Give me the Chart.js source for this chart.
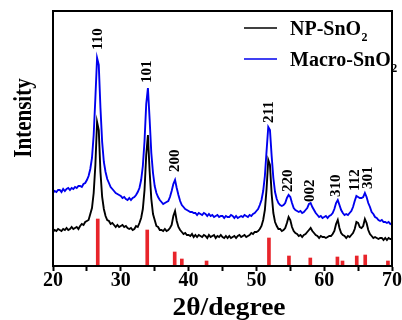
<!DOCTYPE html>
<html>
<head>
<meta charset="utf-8">
<script src="https://cdn.jsdelivr.net/npm/chart.js@4"></script>
<style>
  html, body { margin: 0; padding: 0; background: #fff; }
  #wrap { width: 402px; height: 320px; }
</style>
</head>
<body>
<div id="wrap"><canvas id="xrdChart"></canvas></div>
<script>
// 2θ sampling, 20..70 in 0.25 steps
const twoTheta = [];
for (let i = 0; i <= 200; i++) twoTheta.push(20 + i * 0.25);

// NP-SnO2 (black), one row per degree
const npSnO2 = [
  34, 36, 35, 37,  36, 35, 37, 36,  38, 36, 37, 39,  37, 38, 39, 37,  40, 42, 41, 44,
  45, 46, 52, 58,  73, 101, 144, 136,  94, 69, 57, 50,  46, 45, 42, 43,  41, 39, 41, 39,
  40, 41, 39, 40,  38, 37, 38, 36,  37, 40, 39, 43,  48, 57, 76, 111,  131, 95, 67, 52,
  46, 40, 39, 36,  36, 35, 37, 35,  36, 38, 41, 50,  55, 45, 39, 36,  34, 32, 33, 31,
  31, 30, 32, 29,  31, 29, 31, 30,  29, 31, 30, 28,  31, 29, 30, 31,  28, 30, 29, 31,
  29, 28, 30, 28,  30, 28, 29, 30,  28, 30, 31, 29,  30, 31, 29, 30,  31, 33, 32, 34,
  34, 35, 37, 40,  46, 56, 77, 106,  101, 72, 53, 44,  40, 37, 37, 35,  36, 38, 43, 49,
  46, 39, 35, 33,  32, 30, 31, 29,  31, 32, 34, 36,  38, 35, 33, 31,  30, 28, 30, 29,
  29, 28, 29, 30,  30, 32, 35, 42,  46, 38, 33, 31,  30, 28, 30, 29,  31, 33, 37, 44,
  43, 39, 38, 40,  47, 43, 36, 32,  30, 28, 29, 28,  27, 28, 28, 26,  28, 26, 28, 27,
  27
];

// Macro-SnO2 (blue)
const macroSnO2 = [
  73, 75, 74, 76,  76, 74, 77, 75,  77, 78, 76, 78,  77, 79, 78, 80,  80, 79, 82, 83,
  86, 90, 97, 108,  131, 168, 208, 201,  158, 124, 104, 94,  87, 83, 79, 77,  75, 73, 72, 71,
  70, 68, 69, 67,  66, 68, 66, 68,  69, 71, 74, 78,  86, 100, 125, 162,  178, 147, 113, 93,
  80, 73, 69, 66,  64, 62, 63, 64,  65, 69, 75, 82,  86, 78, 71, 65,  61, 59, 57, 56,
  55, 54, 54, 53,  53, 51, 53, 52,  51, 53, 52, 50,  52, 50, 51, 49,  50, 51, 49, 50,
  50, 48, 50, 49,  49, 51, 50, 48,  50, 48, 49, 50,  49, 51, 50, 49,  51, 50, 52, 53,
  55, 57, 61, 66,  75, 90, 115, 139,  136, 110, 88, 74,  67, 63, 61, 60,  61, 63, 68, 71,
  69, 63, 58, 56,  55, 54, 55, 53,  54, 56, 58, 62,  63, 59, 56, 53,  51, 49, 50, 48,
  49, 50, 48, 50,  51, 53, 57, 63,  66, 61, 56, 53,  51, 52, 51, 53,  55, 59, 65, 70,
  69, 68, 68, 69,  73, 69, 63, 59,  54, 52, 49, 48,  46, 45, 46, 44,  44, 43, 44, 42,
  43
];

// reference pattern sticks (red)
const refPos = [26.6, 33.9, 37.95, 39.0, 42.65, 51.85, 54.8, 57.95, 61.95, 62.7, 64.8, 66.05, 69.4];
const refInt = [47, 36, 14, 7, 5, 28, 10, 8, 9, 5, 10, 11, 5];

// peak indices
const hklLabels = ['110', '101', '200', '211', '220', '002', '310', '112', '301'];
const hklPos = [26.6, 33.9, 37.95, 51.9, 54.7, 57.95, 61.8, 64.55, 66.45];
const hklBase = [216, 183, 94, 143, 74, 64, 69, 75, 77];

const xTitle = '2θ/degree';
const yTitle = 'Intensity';

const SERIF = '"Liberation Serif", "Times New Roman", serif';

const toPoints = vals => vals.map((v, i) => ({ x: twoTheta[i], y: v }));

const decorations = {
    id: 'decorations',
    afterDatasetsDraw(chart) {
        const { ctx, chartArea: a, scales: { x, y } } = chart;
        ctx.save();

        // box frame
        ctx.strokeStyle = '#000';
        ctx.lineWidth = 2;
        ctx.strokeRect(a.left, a.top, a.right - a.left, a.bottom - a.top);

        // hkl labels, rotated
        ctx.fillStyle = '#000';
        ctx.font = 'bold 15px ' + SERIF;
        ctx.textAlign = 'left';
        ctx.textBaseline = 'middle';
        hklLabels.forEach((t, i) => {
            ctx.save();
            ctx.translate(x.getPixelForValue(hklPos[i]), y.getPixelForValue(hklBase[i]));
            ctx.rotate(-Math.PI / 2);
            ctx.fillText(t, 0, 0);
            ctx.restore();
        });

        // legend
        const items = chart.data.datasets.filter(d => d.type === 'line');
        items.forEach((d, i) => {
            const ly = 28 + i * 31;
            ctx.strokeStyle = d.borderColor;
            ctx.lineWidth = 1.5;
            ctx.beginPath();
            ctx.moveTo(244, ly);
            ctx.lineTo(277, ly);
            ctx.stroke();
            ctx.fillStyle = '#000';
            ctx.textAlign = 'left';
            ctx.textBaseline = 'alphabetic';
            ctx.font = 'bold 20px ' + SERIF;
            const main = d.label.slice(0, -1);
            ctx.fillText(main, 290, ly + 7);
            const w = ctx.measureText(main).width;
            ctx.font = 'bold 12px ' + SERIF;
            ctx.fillText(d.label.slice(-1), 290 + w + 0.5, ly + 13);
        });

        // axis titles
        ctx.fillStyle = '#000';
        ctx.textAlign = 'center';
        ctx.textBaseline = 'middle';
        ctx.font = 'bold 25px ' + SERIF;
        ctx.save();
        ctx.translate(229, 309);
        ctx.scale(1.1, 1);
        ctx.fillText(xTitle, 0, 0);
        ctx.restore();

        ctx.font = 'bold 21px ' + SERIF;
        ctx.save();
        ctx.translate(25, 118);
        ctx.scale(1.15, 1);
        ctx.rotate(-Math.PI / 2);
        ctx.fillText(yTitle, 0, 0);
        ctx.restore();

        ctx.restore();
    }
};

new Chart(document.getElementById('xrdChart'), {
    type: 'line',
    data: {
        datasets: [
            {
                type: 'line',
                label: 'NP-SnO2',
                data: toPoints(npSnO2),
                borderColor: '#000000',
                borderWidth: 1.9,
                pointRadius: 0,
                tension: 0
            },
            {
                type: 'line',
                label: 'Macro-SnO2',
                data: toPoints(macroSnO2),
                borderColor: '#0000ee',
                borderWidth: 1.9,
                pointRadius: 0,
                tension: 0
            },
            {
                type: 'bar',
                label: 'PDF',
                data: refPos.map((p, i) => ({ x: p, y: refInt[i] })),
                backgroundColor: '#e8242a',
                barThickness: 3
            }
        ]
    },
    options: {
        responsive: true,
        maintainAspectRatio: false,
        animation: false,
        layout: { padding: { left: 53, top: 11, right: 8, bottom: 0 } },
        plugins: {
            legend: { display: false },
            tooltip: { enabled: false }
        },
        scales: {
            x: {
                type: 'linear',
                min: 20,
                max: 70,
                offset: false,
                afterFit: s => { s.height = 54; },
                ticks: {
                    stepSize: 5,
                    padding: 0,
                    maxRotation: 0,
                    autoSkip: false,
                    color: '#000',
                    font: { family: SERIF, size: 20, weight: 'bold', lineHeight: 1 },
                    callback: v => (v % 10 === 0 ? v : '')
                },
                grid: {
                    display: true,
                    drawOnChartArea: false,
                    offset: false,
                    tickLength: 5,
                    tickWidth: 2,
                    tickColor: '#000'
                },
                border: { display: true, color: '#000', width: 2 }
            },
            y: {
                type: 'linear',
                min: 0,
                max: 255,
                display: false
            }
        }
    },
    plugins: [decorations]
});
</script>
</body>
</html>
